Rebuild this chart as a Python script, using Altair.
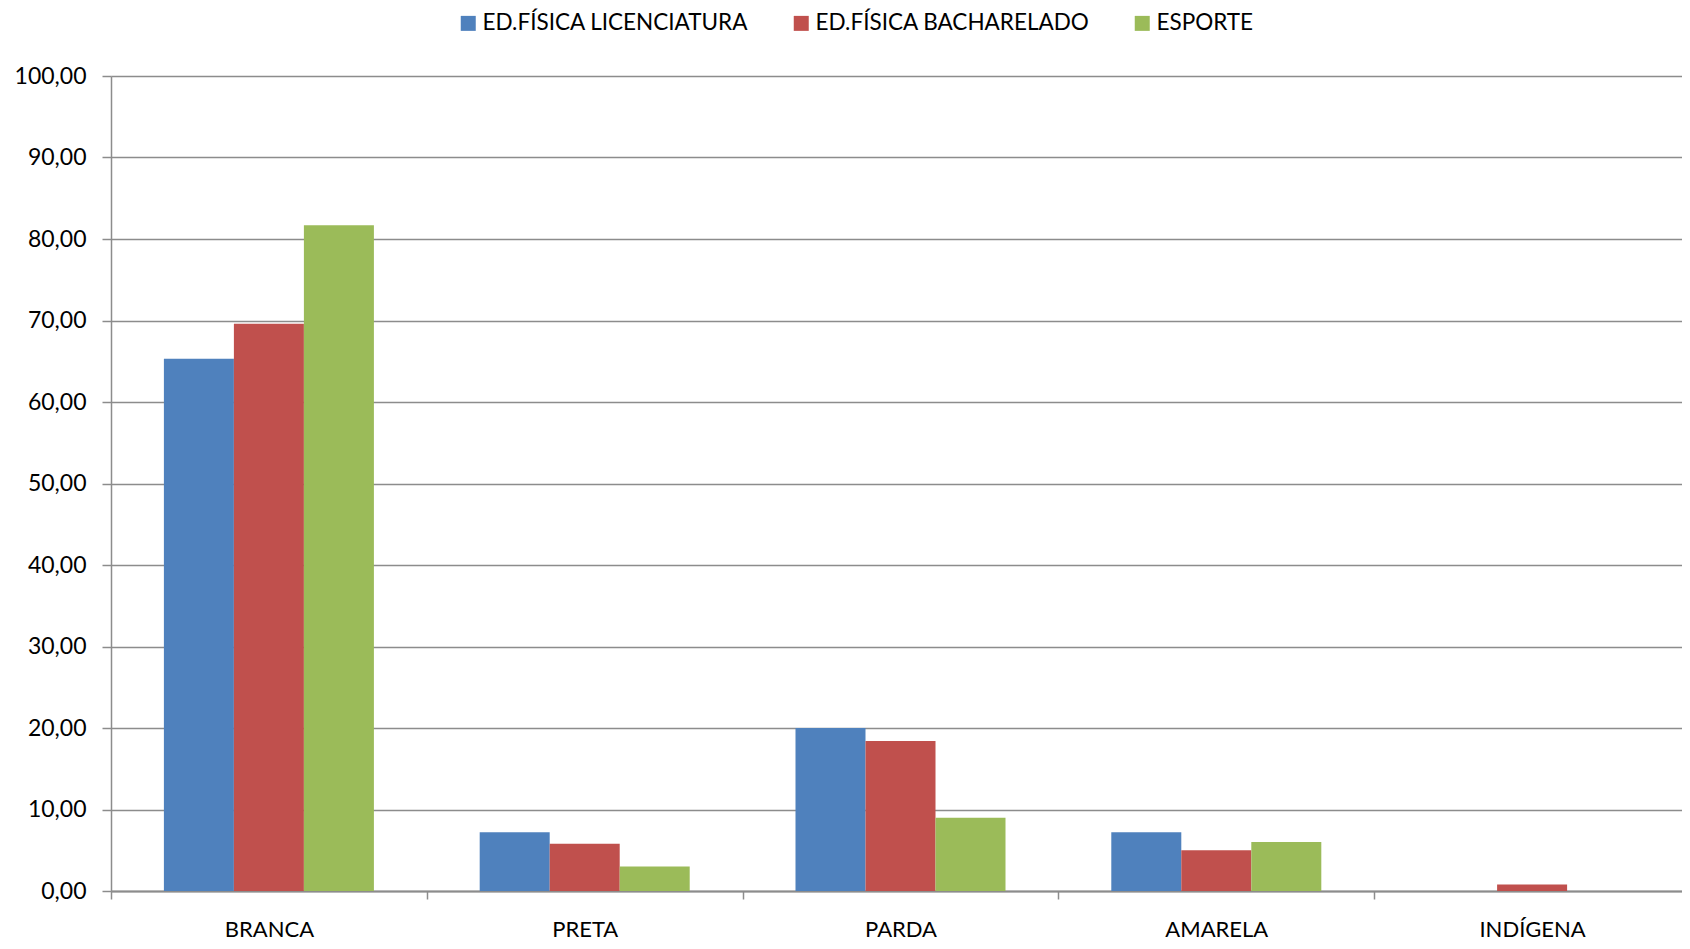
import altair as alt
import pandas as pd

categories = ["BRANCA", "PRETA", "PARDA", "AMARELA", "INDÍGENA"]
series = ["ED.FÍSICA LICENCIATURA", "ED.FÍSICA BACHARELADO", "ESPORTE"]
licenciatura = [65.3, 7.2, 20.0, 7.2, 0.0]
bacharelado = [69.6, 5.8, 18.4, 5.0, 0.8]
esporte = [81.7, 3.0, 9.0, 6.0, 0.0]
colors = ["#4F81BD", "#C0504D", "#9BBB59"]

rows = []
for s, vals in zip(series, [licenciatura, bacharelado, esporte]):
    for c, v in zip(categories, vals):
        rows.append({"cat": c, "serie": s, "valor": v})
df = pd.DataFrame(rows)

FONT = "Lato"

chart = alt.Chart(df).mark_bar().encode(
    x=alt.X("cat:N", sort=categories, title=None,
            scale=alt.Scale(paddingInner=0, paddingOuter=0, range=[0, 1579]),
            axis=alt.Axis(labelAngle=0, tickBand="extent", grid=False,
                          domainColor="#8c8c8c", domainWidth=2,
                          tickColor="#8c8c8c", tickWidth=1.5, tickSize=8,
                          labelPadding=20, labelFontSize=22, labelFont=FONT,
                          labelColor="#000000")),
    xOffset=alt.XOffset("serie:N", sort=series,
                        scale=alt.Scale(paddingInner=0, paddingOuter=0.7556)),
    y=alt.Y("valor:Q", title=None,
            scale=alt.Scale(domain=[0, 100], nice=False),
            axis=alt.Axis(values=list(range(0, 101, 10)),
                          labelExpr="replace(format(datum.value, '.2f'), '.', ',')",
                          grid=True, gridColor="#8c8c8c", gridWidth=1.5,
                          domainColor="#8c8c8c", domainWidth=1.5,
                          tickColor="#8c8c8c", tickWidth=1.5, tickSize=9,
                          labelPadding=16, labelFontSize=23, labelFont=FONT,
                          labelColor="#000000")),
    color=alt.Color("serie:N", sort=series,
                    scale=alt.Scale(domain=series, range=colors),
                    legend=alt.Legend(title=None, orient="none", direction="horizontal",
                                      legendX=346, legendY=-64, columns=3,
                                      symbolType="square", symbolSize=225,
                                      symbolStrokeWidth=0, labelFontSize=22.5,
                                      labelFont=FONT, labelColor="#000000",
                                      labelLimit=0,
                                      columnPadding=41, labelOffset=3, padding=0)),
).properties(
    width=1571, height=815,
    autosize=alt.AutoSizeParams(type="none"),
    padding={"left": 103, "top": 68, "right": 0, "bottom": 58},
).configure_view(stroke=None)

chart.save("out.html", embed_options={"renderer": "svg", "actions": False})
